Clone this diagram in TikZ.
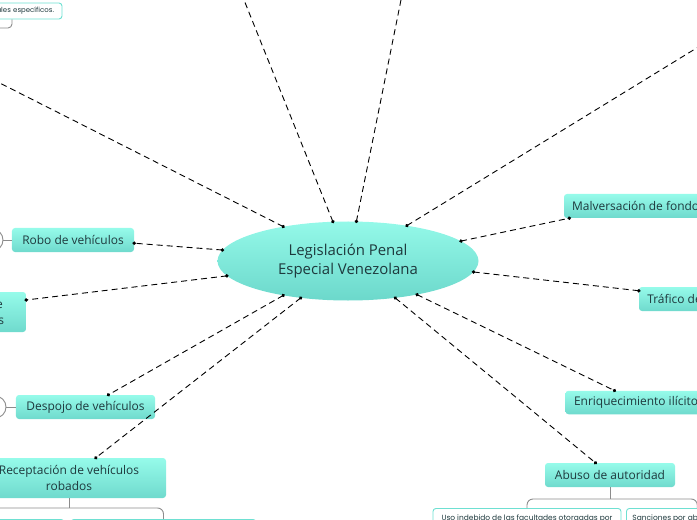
\documentclass[tikz,border=0pt]{standalone}
\usepackage{fontspec}
\setmainfont{Open Sans}
\newfontfamily\smallfont{Poppins}
\usetikzlibrary{shapes.geometric,decorations.markings,calc}
\definecolor{txt}{HTML}{1E393D}
\definecolor{btop}{HTML}{96FBEA}
\definecolor{bbot}{HTML}{6FDACD}
\definecolor{etop}{HTML}{94F9E9}
\definecolor{ebot}{HTML}{6CD8CB}
\definecolor{bord}{HTML}{6EE0D2}
\definecolor{grayl}{HTML}{8C8C8C}
\begin{document}
\begin{tikzpicture}[x=1bp,y=-1bp,
  topic/.style={rectangle, rounded corners=3bp, top color=btop, bottom color=bbot, draw=none, text=txt, font=\fontsize{12}{16}\selectfont, inner sep=0pt, align=center},
  central/.style={ellipse, top color=etop, bottom color=ebot, draw=none, text=txt, font=\fontsize{15}{19.5}\selectfont, inner sep=0pt, align=center},
  leafbox/.style={rectangle, rounded corners=3bp, fill=white, draw=bord, line width=0.9bp, text=txt, font=\smallfont\fontsize{7.5}{9}\selectfont, inner ysep=3bp, inner xsep=6bp},
  conn/.style={draw=black, line width=0.9bp, dash pattern=on 6bp off 4bp,
    postaction={decorate, decoration={markings,
      mark=at position 0 with {\fill[black] (0,0) circle (1.9bp);},
      mark=at position 1 with {\fill[black] (0,0) circle (1.9bp);}}}},
  bracket/.style={draw=grayl, line width=0.9bp},
  knob/.style={circle, draw=grayl, fill=white, line width=0.9bp, minimum size=22bp, inner sep=0pt}
]
\useasboundingbox (0,0) rectangle (697,520);
\clip (0,0) rectangle (697,520);

% central topic
\node[central, minimum width=261bp, minimum height=79bp] (main) at (348,261) {Legislación Penal\\Especial Venezolana};

% main topics
\node[topic, minimum width=122bp, minimum height=24bp] (robo) at (73,240) {Robo de vehículos};
\node[topic, minimum width=96bp, minimum height=40bp] (hurto) at (-22,312) {Hurto de\\vehículos};
\node[topic, minimum width=139bp, minimum height=24bp] (despojo) at (85.5,407) {Despojo de vehículos};
\node[topic, minimum width=194bp, minimum height=40bp] (recep) at (69,478) {Receptación de vehículos\\robados};
\node[topic, minimum width=149bp, minimum height=24bp] (malv) at (638.5,206) {Malversación de fondos};
\node[topic, minimum width=134bp, minimum height=24bp] (trafico) at (706,299) {Tráfico de influencias};
\node[topic, minimum width=141bp, minimum height=23.5bp] (enriq) at (636,402.5) {Enriquecimiento ilícito};
\node[topic, minimum width=130bp, minimum height=24bp] (abuso) at (610,475) {Abuso de autoridad};

% collapse knobs
\node[knob] (roboK) at (-8,240) {};
\node[knob] (despK) at (-5,407) {};
\draw[bracket] (roboK.east) -- (robo.west);
\draw[bracket] (despK.east) -- (despojo.west);

% leaf boxes
\node[leafbox, text width=84bp, align=right, minimum height=16bp, inner xsep=8bp, inner ysep=0pt, font=\smallfont\fontsize{7}{9}\selectfont] (tl) at (12,11) {penales específicos.};
\coordinate (tlfree) at (-20,28);
\draw[bracket, rounded corners=4bp] (tlfree) -| (tl.south);

\node[leafbox, anchor=north, minimum width=188bp, minimum height=20bp] (abA) at (527,508) {Uso indebido de las facultades otorgadas por};
\node[leafbox, anchor=north west, minimum width=132bp, minimum height=20bp] (abB) at (626,508) {Sanciones por abuso de autoridad};
\draw[bracket] (abuso.south) -- ++(0,12);
\draw[bracket, rounded corners=6bp] (abA.north) -- ++(0,-9) -| (abB.north);

\node[leafbox, anchor=north, minimum width=188bp, minimum height=20bp] (rcA) at (-30,519) {};
\node[leafbox, anchor=north, minimum width=185bp, minimum height=20bp] (rcB) at (163.5,519) {};
\draw[bracket] (recep.south) -- ++(0,10);
\draw[bracket, rounded corners=6bp] (rcA.north) -- ++(0,-11) -| (rcB.north);

% off-canvas ends
\coordinate (offA) at (-20,73);
\coordinate (offB) at (240,-10);
\coordinate (offC) at (403,-10);
\coordinate (offD) at (713,38);

% connectors
\draw[conn] (main.152.5) -- (offA);
\draw[conn] (main.111.6) -- (offB);
\draw[conn] (main.78.4) -- (offC);
\draw[conn] (main.31.9) -- (offD);
\draw[conn] (main.10.7) -- (malv.190.5);
\draw[conn] (main.-5.8) -- (trafico.173.6);
\draw[conn] (main.-26.2) -- (enriq.151.5);
\draw[conn] (main.-38.8) -- (abuso.140);
\draw[conn] (main.218.1) -- (recep.37.5);
\draw[conn] (main.208.9) -- (despojo.28.2);
\draw[conn] (main.187) -- (hurto.14.2);
\draw[conn] (main.175.6) -- (robo.-3.6);
\end{tikzpicture}
\end{document}
